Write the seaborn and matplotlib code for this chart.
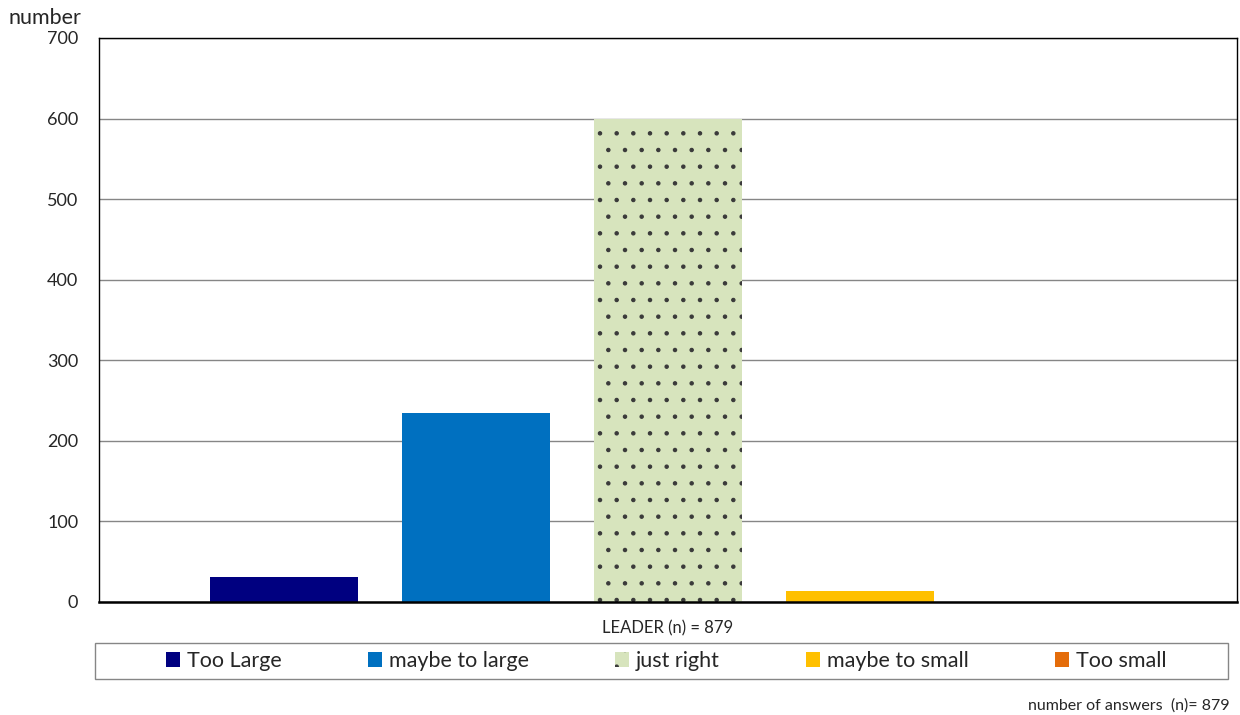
import pandas as pd
import numpy as np
import matplotlib
matplotlib.use('Agg')
import matplotlib.pyplot as plt
import seaborn as sns
from matplotlib.patches import Patch, Rectangle

# dados do grafico
categorias = ['LEADER (n) = 879']
series = ['Too Large', 'maybe to large', 'just right', 'maybe to small', 'Too small']
valores = [31, 235, 599, 14, 0]
cores = ['#000080', '#0070C0', '#D7E4BD', '#FFC000', '#E46C0A']
y_ticks = [0, 100, 200, 300, 400, 500, 600, 700]

base = pd.DataFrame({'grupo': categorias * len(series), 'serie': series, 'valor': valores})

sns.set_style('white')
plt.rcParams['font.family'] = ['Lato', 'DejaVu Sans']
plt.rcParams['hatch.linewidth'] = 0.8

fig = plt.figure(figsize=(12.4, 7.15), dpi=100)
ax = fig.add_axes([99 / 1240, 1 - 602 / 715, (1237 - 99) / 1240, (602 - 38) / 715])

sns.barplot(data=base, x='grupo', y='valor', hue='serie', hue_order=series,
            palette=dict(zip(series, cores)), width=0.8436, gap=0.229,
            legend=False, saturation=1, ax=ax, linewidth=0)

# padrao de pontos na barra "just right"
for p in ax.containers[2]:
    p.set_hatch('.')
    p.set_edgecolor('#3a3a3a')
    p.set_linewidth(0)

ax.set_xlim(-0.5, 0.5)
ax.set_ylim(0, 700)
ax.set_yticks(y_ticks)
ax.tick_params(axis='y', labelsize=13, length=4.5, color='#808080', colors='#262626', pad=10.5)
ax.tick_params(axis='x', labelsize=12, length=0, colors='#262626', pad=13)
ax.set_xticks([-0.5, 0.5], minor=True)
ax.tick_params(axis='x', which='minor', length=3, color='#808080')
ax.set_xlabel('')
ax.set_ylabel('')
ax.yaxis.grid(True, color='#868686', linewidth=1)
ax.set_axisbelow(True)
for s in ax.spines.values():
    s.set_color('black')
    s.set_linewidth(1)
ax.spines['bottom'].set_linewidth(1.8)

fig.text(8 / 1240, 1 - 18 / 715, 'number', fontsize=15.5, color='#262626', va='center', ha='left')
fig.text(1230 / 1240, 1 - 706 / 715, 'number of answers  (n)= 879', fontsize=11.5,
         color='#262626', va='center', ha='right')

# caixa da legenda
fig.patches.append(Rectangle((95 / 1240, 1 - 679 / 715), (1228 - 95) / 1240, 36 / 715,
                             transform=fig.transFigure, facecolor='white',
                             edgecolor='#868686', linewidth=1, zorder=0))

handles = [Patch(facecolor=c, edgecolor='none') for c in cores]
handles[2] = Patch(facecolor=cores[2], edgecolor='#3a3a3a', hatch='.', linewidth=0)
leg = fig.legend(handles, series, loc='center', ncol=5,
                 bbox_to_anchor=(666 / 1240, 1 - 661 / 715),
                 fontsize=15.5, frameon=False, handlelength=0.68,
                 handleheight=0.68, handletextpad=0.3, columnspacing=4.0,
                 borderaxespad=0, borderpad=0)
for t in leg.get_texts():
    t.set_color('#262626')

fig.savefig('out.png', dpi=100)
